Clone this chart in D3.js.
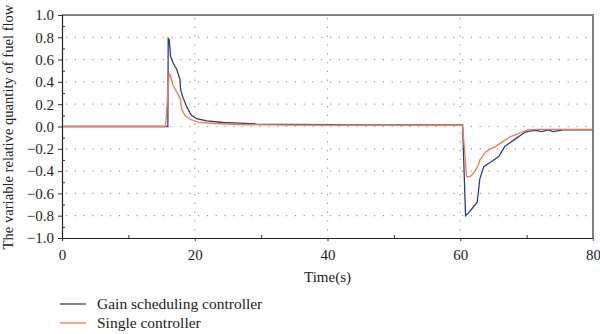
<!DOCTYPE html>
<html>
<head>
<meta charset="utf-8">
<script src="https://cdn.jsdelivr.net/npm/d3@7"></script>
<style>
  html, body { margin: 0; padding: 0; background: #fff; }
  svg { display: block; }
  text { font-family: "Liberation Serif", "DejaVu Serif", serif; fill: #222; }
</style>
</head>
<body>
<svg id="chart" width="600" height="334"></svg>
<script>
// Fuel flow response of the two controllers
const gainTime = [0, 15.95, 16.0, 16.15, 16.35, 16.75, 17.0, 17.3, 17.77, 17.87, 18.17, 18.77, 19.3, 19.5, 20.3, 21.8, 24.3, 26.8, 29.3, 35, 45, 55, 60.35, 60.8, 61.3, 62.0, 62.55, 62.95, 63.55, 64.55, 65.8, 66.7, 68.1, 69.8, 70.6, 71.5, 72.3, 73.2, 74.0, 75.5, 77, 80];
const gainValue = [0, 0, 0.79, 0.78, 0.63, 0.57, 0.54, 0.51, 0.42, 0.33, 0.27, 0.18, 0.12, 0.10, 0.07, 0.05, 0.036, 0.03, 0.022, 0.018, 0.015, 0.015, 0.015, -0.80, -0.77, -0.72, -0.68, -0.47, -0.36, -0.32, -0.27, -0.18, -0.12, -0.05, -0.04, -0.035, -0.045, -0.03, -0.045, -0.03, -0.03, -0.03];

const singleTime = [0, 15.6, 16.15, 16.35, 16.75, 17.27, 17.66, 17.87, 18.0, 18.5, 19.3, 20.5, 22.8, 26.8, 30, 40, 50, 60.35, 60.95, 61.45, 62.0, 62.4, 62.7, 62.95, 63.8, 64.55, 65.3, 66.3, 67.6, 69.1, 70.1, 72, 80];
const singleValue = [0, 0, 0.48, 0.45, 0.37, 0.31, 0.27, 0.24, 0.16, 0.10, 0.065, 0.04, 0.027, 0.018, 0.015, 0.013, 0.013, 0.015, -0.45, -0.45, -0.42, -0.38, -0.35, -0.30, -0.23, -0.20, -0.18, -0.14, -0.09, -0.056, -0.03, -0.025, -0.025];

const xTicks = [0, 20, 40, 60, 80];
const xMinorTicks = [10, 30, 50, 70];
const yTicks = [-1.0, -0.8, -0.6, -0.4, -0.2, 0.0, 0.2, 0.4, 0.6, 0.8, 1.0];
const yMinorTicks = [-0.9, -0.7, -0.5, -0.3, -0.1, 0.1, 0.3, 0.5, 0.7, 0.9];
const xGrid = [20, 40, 60];
const yGrid = [-0.8, -0.6, -0.4, -0.2, 0.0, 0.2, 0.4, 0.6, 0.8];

const seriesNames = ["Gain scheduling controller", "Single controller"];
const seriesColors = ["#2c3c8c", "#f47a4c"];

const margin = { left: 62, right: 7, top: 15, bottom: 96 };
const W = 600, H = 334;
const svg = d3.select("#chart");

const x = d3.scaleLinear().domain([0, 80]).range([margin.left, W - margin.right]);
const y = d3.scaleLinear().domain([-1, 1]).range([H - margin.bottom, margin.top]);

// dotted grid
const grid = svg.append("g").attr("stroke", "#9a9a9a").attr("stroke-width", 1.2)
  .attr("stroke-dasharray", "1.2,7.6").attr("fill", "none");
grid.selectAll("line.h").data(yGrid).join("line").attr("class", "h")
  .attr("x1", x(0) + 4).attr("x2", x(80)).attr("y1", d => y(d)).attr("y2", d => y(d));
grid.selectAll("line.v").data(xGrid).join("line").attr("class", "v")
  .attr("x1", d => x(d)).attr("x2", d => x(d)).attr("y1", y(1) + 3).attr("y2", y(-1));

// frame top and right
svg.append("path")
  .attr("d", `M${x(0)},${y(1)}H${x(80)}V${y(-1)}`)
  .attr("fill", "none").attr("stroke", "#808080").attr("stroke-width", 2);

// data lines
const line = d3.line().x(d => x(d[0])).y(d => y(d[1]));
const gainPts = gainTime.map((t, i) => [t, gainValue[i]]);
const singlePts = singleTime.map((t, i) => [t, singleValue[i]]);
svg.append("path").datum(gainPts).attr("d", line)
  .attr("fill", "none").attr("stroke", seriesColors[0]).attr("stroke-width", 1.3);
svg.append("path").datum(singlePts).attr("d", line)
  .attr("fill", "none").attr("stroke", seriesColors[1]).attr("stroke-width", 1.3);

// axes
const fmt = d3.format(".1f");
const yAxis = svg.append("g").attr("transform", `translate(${x(0)},0)`)
  .call(d3.axisLeft(y).tickValues(yTicks).tickFormat(fmt).tickSize(4).tickPadding(4));
svg.append("g").attr("transform", `translate(${x(0)},0)`)
  .call(d3.axisRight(y).tickValues(yMinorTicks).tickFormat("").tickSize(3))
  .select(".domain").remove();
const xAxis = svg.append("g").attr("transform", `translate(0,${y(-1)})`)
  .call(d3.axisBottom(x).tickValues(xTicks).tickFormat(d3.format("d")).tickSize(3).tickPadding(8));
svg.append("g").attr("transform", `translate(0,${y(-1)})`)
  .call(d3.axisTop(x).tickValues(xMinorTicks).tickFormat("").tickSize(3))
  .select(".domain").remove();

[yAxis, xAxis].forEach(a => {
  a.select(".domain").attr("stroke", "#222").attr("stroke-width", 1.2);
  a.selectAll("text").style("font-size", "15px").attr("fill", "#222")
    .style("font-family", "'Liberation Serif', 'DejaVu Serif', serif");
});
svg.selectAll(".tick line").attr("stroke", "#333");
xAxis.select(".tick:last-of-type line").attr("stroke", "#808080");

// axis titles
svg.append("text").attr("x", x(40)).attr("y", 282).attr("text-anchor", "middle")
  .style("font-size", "15px").text("Time(s)");
svg.append("text").attr("transform", `translate(13,${127}) rotate(-90)`)
  .attr("text-anchor", "middle").style("font-size", "14.6px")
  .text("The variable relative quantity of fuel flow");

// legend
const legend = svg.append("g");
seriesNames.forEach((name, i) => {
  const ly = 304 + i * 19;
  legend.append("line").attr("x1", 60).attr("x2", 86).attr("y1", ly).attr("y2", ly)
    .attr("stroke", seriesColors[i]).attr("stroke-width", 1.3);
  legend.append("text").attr("x", 97).attr("y", ly + 5).style("font-size", "15.5px").text(name);
});
</script>
</body>
</html>
